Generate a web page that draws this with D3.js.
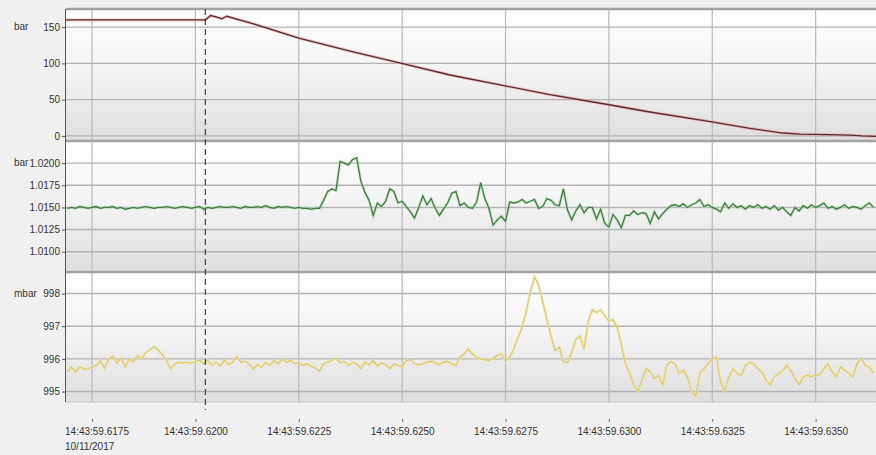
<!DOCTYPE html>
<html>
<head>
<meta charset="utf-8">
<script src="https://cdn.jsdelivr.net/npm/d3@7"></script>
<style>
  body { margin: 0; background: #f0f0f0; }
  svg { display: block; font-family: "Liberation Sans", Arial, sans-serif; }
  .tick text { fill: #333; font-size: 10px; }
</style>
</head>
<body>
<div id="chart"></div>
<script>
// time is in seconds after 14:43, samples every 0.1 ms
var sampleStart = 59.6169;
var sampleStep = 0.0001;
var cursorTime = 59.62024;

// x ticks (seconds), label prefix and date under the first one
var xTicks = [59.6175, 59.6200, 59.6225, 59.6250, 59.6275, 59.6300, 59.6325, 59.6350];
var timePrefix = '14:43:';
var dateLabel = '10/11/2017';

// top panel: pressure in bar (sparse points)
var pressTimes = [59.61687, 59.62024, 59.62037, 59.62050, 59.62064, 59.62076, 59.62132, 59.62250,
    59.62374, 59.62499, 59.62616, 59.62749, 59.62857, 59.62990, 59.63099, 59.63249,
    59.63341, 59.63421, 59.63462, 59.63500, 59.63583, 59.63612, 59.63646];
var pressBar = [160, 160, 166, 164, 161.5, 165, 156, 135,
    117, 100, 84, 69, 57, 44, 33, 19.5,
    10.5, 4, 2.5, 2, 1, 0, -0.5];
var pressTicks = [0, 50, 100, 150];

// middle panel: bar
var midBar = [1.0149,1.0150,1.0149,1.0151,1.0150,1.0149,1.0150,1.0151,1.0149,1.0150,
    1.0150,1.0151,1.0149,1.0150,1.0148,1.0149,1.0150,1.0149,1.0150,1.0151,
    1.0150,1.0149,1.0150,1.0150,1.0151,1.0150,1.0149,1.0150,1.0151,1.0150,
    1.0149,1.0150,1.0151,1.0148,1.0150,1.0149,1.0150,1.0151,1.0150,1.0150,
    1.0151,1.0150,1.0149,1.0151,1.0150,1.0150,1.0151,1.0150,1.0152,1.0150,
    1.0149,1.0151,1.0150,1.0151,1.0150,1.0149,1.0150,1.0149,1.0149,1.0148,
    1.0149,1.0149,1.0158,1.0168,1.0171,1.0169,1.0202,1.0200,1.0198,1.0204,
    1.0206,1.0180,1.0167,1.0158,1.0141,1.0155,1.0151,1.0157,1.0171,1.0168,
    1.0155,1.0157,1.0151,1.0145,1.0138,1.0150,1.0163,1.0153,1.0160,1.0149,
    1.0141,1.0148,1.0155,1.0166,1.0168,1.0152,1.0155,1.0150,1.0149,1.0156,
    1.0178,1.0160,1.0149,1.0130,1.0136,1.0140,1.0134,1.0156,1.0155,1.0156,
    1.0159,1.0155,1.0157,1.0159,1.0149,1.0151,1.0160,1.0158,1.0153,1.0152,
    1.0171,1.0147,1.0136,1.0146,1.0153,1.0144,1.0150,1.0150,1.0137,1.0148,
    1.0132,1.0128,1.0142,1.0136,1.0127,1.0141,1.0141,1.0146,1.0142,1.0144,
    1.0143,1.0132,1.0145,1.0137,1.0143,1.0148,1.0152,1.0153,1.0151,1.0154,
    1.0150,1.0153,1.0155,1.0159,1.0151,1.0153,1.0150,1.0148,1.0145,1.0155,
    1.0149,1.0154,1.0150,1.0152,1.0148,1.0152,1.0150,1.0153,1.0149,1.0151,
    1.0148,1.0152,1.0147,1.0150,1.0145,1.0141,1.0150,1.0146,1.0152,1.0149,
    1.0153,1.0150,1.0152,1.0155,1.0149,1.0151,1.0148,1.0150,1.0153,1.0149,
    1.0151,1.0150,1.0148,1.0152,1.0155,1.0150];
var midTicks = [1.0100, 1.0125, 1.0150, 1.0175, 1.0200];

// bottom panel: mbar
var lowMbar = [995.6,995.75,995.6,995.75,995.7,995.68,995.76,995.8,995.95,995.72,
    996.0,996.08,995.87,996.03,995.76,996.0,995.92,996.1,996.0,996.2,
    996.28,996.38,996.27,996.12,995.95,995.7,995.85,995.9,995.88,995.9,
    995.87,995.92,995.96,995.85,995.95,995.8,995.9,995.78,995.95,995.82,
    995.9,996.07,995.9,995.93,995.85,995.68,995.82,995.75,995.9,995.8,
    995.95,995.85,996.0,995.9,995.95,995.85,995.9,995.8,995.85,995.78,
    995.72,995.62,995.85,995.9,995.95,996.02,995.88,995.92,995.8,995.9,
    995.85,995.7,995.9,995.82,995.95,995.78,995.88,995.82,995.7,995.85,
    995.8,995.76,995.95,995.98,995.85,995.82,995.85,995.9,995.92,995.88,
    995.82,995.9,995.92,995.85,995.8,996.05,996.15,996.3,996.15,996.05,
    996.0,995.98,995.95,996.02,996.1,996.15,995.92,996.05,996.3,996.65,
    996.95,997.45,998.05,998.52,998.25,997.75,997.22,996.7,996.25,996.35,
    995.92,995.88,996.2,996.6,996.7,996.3,997.15,997.5,997.42,997.5,
    997.32,997.15,997.2,996.95,996.45,995.85,995.55,995.2,995.0,995.35,
    995.7,995.6,995.4,995.5,995.2,995.8,995.92,995.85,995.55,995.65,
    995.45,995.0,994.85,995.56,995.7,995.85,996.0,996.05,995.3,995.0,
    995.45,995.7,995.55,995.5,995.8,995.9,995.85,995.7,995.6,995.35,
    995.2,995.45,995.55,995.62,995.8,995.65,995.4,995.2,995.45,995.5,
    995.45,995.5,995.52,995.7,995.85,995.6,995.45,995.76,995.65,995.55,
    995.45,995.85,996.02,995.8,995.75,995.56];
var lowTicks = [995, 996, 997, 998];

var width = 876, height = 455;
var left = 66, right = 876;

var svg = d3.select('#chart').append('svg')
    .attr('width', width).attr('height', height);

var defs = svg.append('defs');
var grad = defs.append('linearGradient').attr('id', 'panelFill')
    .attr('x1', 0).attr('y1', 0).attr('x2', 0).attr('y2', 1);
grad.append('stop').attr('offset', '0%').attr('stop-color', '#ffffff');
grad.append('stop').attr('offset', '45%').attr('stop-color', '#f4f4f4');
grad.append('stop').attr('offset', '100%').attr('stop-color', '#dedede');

var x = d3.scaleLinear().domain([59.61687, 59.63646]).range([left, right]);

function sampleTimes(vals) {
    return vals.map(function(v, i) { return sampleStart + i * sampleStep; });
}

var panels = [
    {unit: 'bar', top: 9, bottom: 141, domain: [-7, 175], ticks: pressTicks, fmt: d3.format('d'),
     times: pressTimes, vals: pressBar, color: '#5a2b2d', halo: '#e6a3a3'},
    {unit: 'bar', top: 141, bottom: 272, domain: [1.00771, 1.0225], ticks: midTicks, fmt: d3.format('.4f'),
     times: sampleTimes(midBar), vals: midBar, color: '#3f7d3f', halo: '#b9d8b9'},
    {unit: 'mbar', top: 272, bottom: 402, domain: [994.68, 998.66], ticks: lowTicks, fmt: d3.format('d'),
     times: sampleTimes(lowMbar), vals: lowMbar, color: '#dccb6a', halo: '#f1e8bd'}
];

panels.forEach(function(p, k) {
    var y = d3.scaleLinear().domain(p.domain).range([p.bottom, p.top]);
    var g = svg.append('g');

    g.append('rect').attr('x', left).attr('y', p.top)
        .attr('width', right - left).attr('height', p.bottom - p.top)
        .attr('fill', 'url(#panelFill)');

    // vertical grid
    g.selectAll('.vg').data(xTicks).enter().append('line')
        .attr('x1', function(d) { return x(d); }).attr('x2', function(d) { return x(d); })
        .attr('y1', p.top).attr('y2', p.bottom)
        .attr('stroke', '#b9b9b9').attr('stroke-width', 1.2);

    // horizontal grid
    g.selectAll('.hg').data(p.ticks).enter().append('line')
        .attr('x1', left).attr('x2', right)
        .attr('y1', function(d) { return y(d); }).attr('y2', function(d) { return y(d); })
        .attr('stroke', '#b3b3b3').attr('stroke-width', 1.4);

    // panel borders
    g.append('line').attr('x1', left).attr('x2', right)
        .attr('y1', p.top).attr('y2', p.top)
        .attr('stroke', '#a2a2a2').attr('stroke-width', 2.5);

    var clipId = 'clip' + k;
    defs.append('clipPath').attr('id', clipId).append('rect')
        .attr('x', left).attr('y', p.top).attr('width', right - left).attr('height', p.bottom - p.top);

    var pts = p.times.map(function(t, i) { return [t, p.vals[i]]; });
    var line = d3.line().x(function(d) { return x(d[0]); }).y(function(d) { return y(d[1]); });

    g.append('path').datum(pts).attr('clip-path', 'url(#' + clipId + ')')
        .attr('d', line).attr('fill', 'none')
        .attr('stroke', p.halo).attr('stroke-width', 3).attr('stroke-opacity', 0.6);
    g.append('path').datum(pts).attr('clip-path', 'url(#' + clipId + ')')
        .attr('d', line).attr('fill', 'none')
        .attr('stroke', p.color).attr('stroke-width', 1.3);

    // y axis
    var ax = svg.append('g').attr('transform', 'translate(' + left + ',0)')
        .call(d3.axisLeft(y).tickValues(p.ticks).tickFormat(p.fmt).tickSize(4).tickPadding(2));
    ax.select('.domain').attr('stroke', '#555').attr('d', 'M-0.5,' + p.top + 'V' + p.bottom);
    ax.selectAll('.tick line').attr('stroke', '#555');

    svg.append('text').attr('x', 14).attr('y', y(p.ticks[p.ticks.length - 1]))
        .attr('dy', '0.32em').attr('font-size', 10).attr('fill', '#333').text(p.unit);
});

// bottom border
svg.append('line').attr('x1', left).attr('x2', right).attr('y1', 402).attr('y2', 402)
    .attr('stroke', '#c4c4c4').attr('stroke-width', 1);

// cursor
svg.append('line').attr('x1', x(cursorTime)).attr('x2', x(cursorTime))
    .attr('y1', 9).attr('y2', 410)
    .attr('stroke', '#333').attr('stroke-width', 1.1).attr('stroke-dasharray', '6,4');

// x axis
var xAxis = svg.append('g').attr('transform', 'translate(0,419)')
    .call(d3.axisBottom(x).tickValues(xTicks)
        .tickFormat(function(d) { return timePrefix + d.toFixed(4); })
        .tickSize(3).tickPadding(6));
xAxis.select('.domain').remove();
xAxis.selectAll('.tick line').attr('stroke', '#666');
xAxis.selectAll('.tick text').each(function() {
    var t = d3.select(this);
    var w = this.getComputedTextLength();
    var tx = +t.attr('x') || 0;
    var cx = +d3.select(this.parentNode).attr('transform').match(/translate\(([-\d.]+)/)[1];
    if (cx - w / 2 < 65) t.attr('x', 65 - cx + w / 2);
});
var firstX = x(xTicks[0]);
var firstW = xAxis.select('.tick text').node().getComputedTextLength();
svg.append('text').attr('x', Math.max(firstX - firstW / 2, 65)).attr('y', 450)
    .attr('font-size', 10).attr('fill', '#333').text(dateLabel);
</script>
</body>
</html>
